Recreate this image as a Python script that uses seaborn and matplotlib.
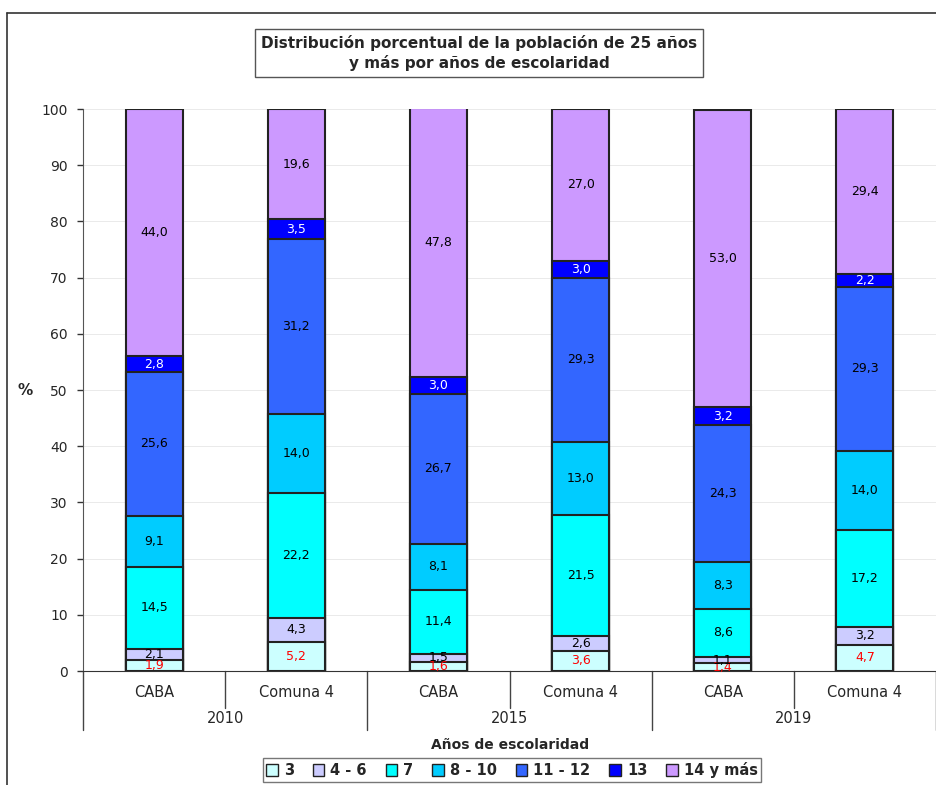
import numpy as np
import pandas as pd
import matplotlib.pyplot as plt
import seaborn as sns
from matplotlib.patches import Patch
from matplotlib.lines import Line2D

# data
bars = ["CABA", "Comuna 4", "CABA", "Comuna 4", "CABA", "Comuna 4"]
years = ["2010", "2015", "2019"]
levels = ["3", "4 - 6", "7", "8 - 10", "11 - 12", "13", "14 y más"]

v_3 = [1.9, 5.2, 1.6, 3.6, 1.4, 4.7]
v_4_6 = [2.1, 4.3, 1.5, 2.6, 1.1, 3.2]
v_7 = [14.5, 22.2, 11.4, 21.5, 8.6, 17.2]
v_8_10 = [9.1, 14.0, 8.1, 13.0, 8.3, 14.0]
v_11_12 = [25.6, 31.2, 26.7, 29.3, 24.3, 29.3]
v_13 = [2.8, 3.5, 3.0, 3.0, 3.2, 2.2]
v_14 = [44.0, 19.6, 47.8, 27.0, 53.0, 29.4]

colors = ["#CCFFFF", "#CCCCFF", "#00FFFF", "#00CCFF", "#3366FF", "#0000FF", "#CC99FF"]
label_colors = ["red", "black", "black", "black", "black", "white", "black"]

series = [v_3, v_4_6, v_7, v_8_10, v_11_12, v_13, v_14]
ids = [f"{y}_{b}" for y in years for b in ["CABA", "Comuna 4"]]

sns.set_style("white")
plt.rcParams["font.family"] = ["DejaVu Sans"]

fig = plt.figure(figsize=(9.36, 7.85), dpi=100)
ax = fig.add_axes([0.0887, 0.1452, 0.9113, 0.7159])

vals = np.array(series)
cum = np.cumsum(vals, axis=0)
bottoms = cum - vals

# stacked bars: draw cumulative totals from the top down
for i in range(len(levels) - 1, -1, -1):
    df = pd.DataFrame({"id": ids, "h": cum[i]})
    sns.barplot(data=df, x="id", y="h", order=ids, color=colors[i], width=0.4,
                edgecolor="#222222", linewidth=1.5, saturation=1, ax=ax, zorder=3)

# segment labels
for i in range(len(levels)):
    for j in range(len(ids)):
        y = bottoms[i, j] + vals[i, j] / 2
        ax.text(j, y, f"{vals[i, j]:.1f}".replace(".", ","), ha="center", va="center",
                fontsize=9, color=label_colors[i], zorder=5)

ax.set_xlim(-0.5, 5.5)
ax.set_ylim(0, 100)
ax.set_yticks(range(0, 101, 10))
ax.tick_params(axis="y", labelsize=10, length=4, width=1, pad=7, direction="out", left=True,
               color="#333333")
ax.yaxis.grid(True, color="#e2e2e2", lw=0.5)
ax.set_axisbelow(True)
ax.set_xticks([])
ax.set_xlabel("")
ax.set_ylabel("")
for s in ["top", "right"]:
    ax.spines[s].set_visible(False)
ax.spines["left"].set_color("#555555")
ax.spines["bottom"].set_color("#333333")

# multi-level category axis
tr = ax.get_xaxis_transform()
for j, b in enumerate(bars):
    ax.text(j, -0.039, b, transform=tr, ha="center", va="center", fontsize=10.5)
for k, yr in enumerate(years):
    ax.text(2 * k + 0.5, -0.085, yr, transform=tr, ha="center", va="center", fontsize=10.5)
for x in [-0.5, 1.5, 3.5, 5.5]:
    ax.add_line(Line2D([x, x], [0, -0.105], transform=tr, color="#444444", lw=1, clip_on=False))
for x in [0.5, 2.5, 4.5]:
    ax.add_line(Line2D([x, x], [0, -0.066], transform=tr, color="#444444", lw=1, clip_on=False))

fig.text(0.545, 0.051, "Años de escolaridad", ha="center", va="center",
         fontsize=10, fontweight="bold")
fig.text(0.027, 0.503, "%", ha="center", va="center", fontsize=11, fontweight="bold")

fig.text(0.512, 0.933, "Distribución porcentual de la población de 25 años\ny más por años de escolaridad",
         ha="center", va="center", fontsize=11, fontweight="bold", linespacing=1.3,
         bbox=dict(boxstyle="square,pad=0.4", facecolor="white", edgecolor="#555555", lw=1))

handles = [Patch(facecolor=c, edgecolor="#222222", label=l) for c, l in zip(colors, levels)]
leg = fig.legend(handles=handles, loc="center", bbox_to_anchor=(0.547, 0.019), ncol=7,
                 frameon=True, fancybox=False, edgecolor="#555555",
                 handlelength=0.8, handleheight=0.8, handletextpad=0.4, columnspacing=1.3,
                 borderpad=0.25, borderaxespad=0, prop={"weight": "bold", "size": 10.5})

# outer chart border
fig.add_artist(Line2D([0.007, 0.007], [0.0, 0.984], transform=fig.transFigure, color="#333333", lw=1.2))
fig.add_artist(Line2D([0.007, 1.0], [0.984, 0.984], transform=fig.transFigure, color="#333333", lw=1.2))

fig.savefig("out.png", dpi=100)
